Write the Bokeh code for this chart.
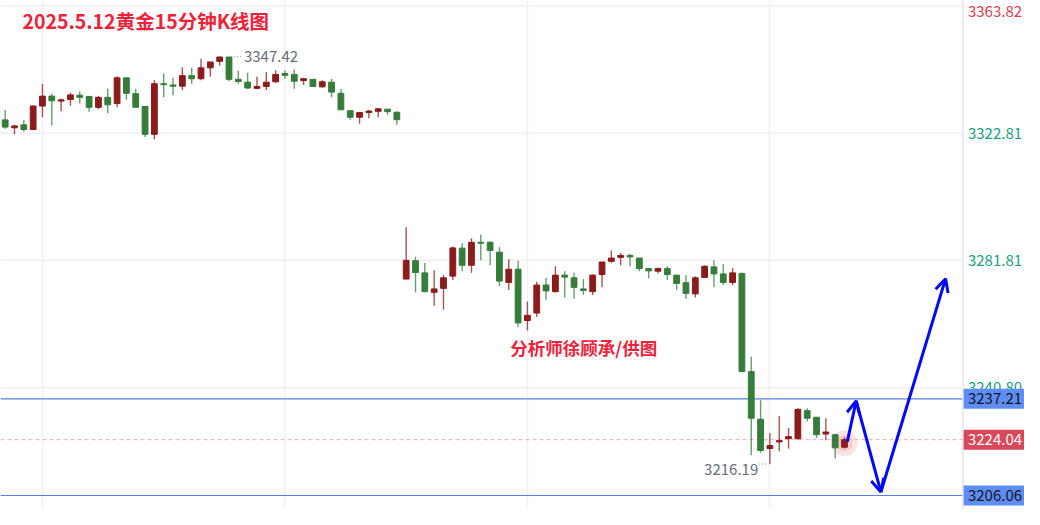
import numpy as np
from bokeh.plotting import figure
from bokeh.models import (Range1d, FixedTicker, Span, Arrow, OpenHead,
                          ColumnDataSource, Grid)
from bokeh.core.properties import value
from bokeh.embed import file_html
from bokeh.resources import INLINE

# ---------------- data (15-minute gold candles, 2025-05-12) ----------------
opens = [3327.04, 3324.50, 3325.45, 3323.95, 3331.50, 3334.70, 3333.10, 3333.60, 3335.00, 3334.60,
         3331.10, 3334.30, 3332.30, 3340.60, 3335.50, 3331.40, 3322.40, 3338.70, 3338.30, 3337.90,
         3341.30, 3340.30, 3343.80, 3345.90, 3347.30, 3340.10, 3339.20, 3337.20, 3337.80, 3339.30,
         3342.00, 3341.70, 3339.70, 3340.10, 3337.70, 3339.20, 3335.60, 3330.00, 3327.90, 3329.40,
         3329.80, 3330.50, 3329.50,
         3275.77, 3281.68, 3277.77, 3271.51, 3272.78, 3276.72, 3285.72, 3280.22, 3287.62, 3287.62,
         3284.45, 3274.69, 3278.95, 3262.42, 3264.83, 3273.86, 3271.73, 3277.04, 3276.18, 3272.59,
         3271.73, 3277.22, 3281.49, 3282.76, 3283.40, 3282.54, 3279.14, 3278.31, 3279.14, 3277.04,
         3274.59, 3271.00, 3276.28, 3279.68, 3277.43, 3274.69, 3277.54, 3245.98, 3230.63, 3221.19,
         3223.32, 3224.37, 3224.37, 3233.37, 3231.27, 3225.86, 3225.64, 3221.61]
highs = [3330.22, 3325.50, 3327.00, 3331.80, 3338.70, 3335.50, 3333.90, 3335.90, 3336.20, 3334.70,
         3334.70, 3337.10, 3341.10, 3340.60, 3337.10, 3331.40, 3339.80, 3342.00, 3340.60, 3344.00,
         3343.80, 3346.70, 3345.70, 3347.42, 3347.30, 3342.90, 3342.20, 3340.90, 3342.50, 3343.00,
         3343.00, 3343.30, 3340.60, 3340.10, 3339.80, 3340.20, 3337.00, 3330.00, 3329.70, 3330.20,
         3330.90, 3330.50, 3329.80,
         3292.49, 3282.95, 3280.95, 3278.63, 3277.04, 3286.26, 3287.31, 3288.90, 3290.07, 3287.93,
         3286.03, 3282.13, 3281.68, 3268.55, 3274.91, 3276.18, 3279.90, 3278.31, 3277.77, 3275.77,
         3277.22, 3281.27, 3285.00, 3284.13, 3283.90, 3282.54, 3279.36, 3279.50, 3279.90, 3277.04,
         3277.04, 3276.72, 3280.22, 3281.81, 3280.54, 3279.36, 3277.87, 3250.75, 3236.77, 3226.18,
         3231.68, 3227.77, 3234.13, 3234.13, 3231.27, 3230.95, 3225.96, 3224.78]
lows = [3324.18, 3322.40, 3323.20, 3323.95, 3327.90, 3325.20, 3329.80, 3331.60, 3332.30, 3329.70,
        3330.50, 3329.20, 3331.10, 3333.50, 3331.10, 3321.50, 3320.80, 3334.30, 3335.00, 3336.60,
        3338.70, 3339.80, 3340.90, 3344.50, 3339.50, 3338.70, 3337.10, 3336.90, 3336.70, 3339.00,
        3340.30, 3337.10, 3338.30, 3337.80, 3337.40, 3334.30, 3330.30, 3327.10, 3325.80, 3327.60,
        3327.90, 3328.70, 3325.50,
        3275.77, 3271.51, 3271.51, 3267.19, 3265.91, 3275.45, 3278.31, 3277.77, 3281.81, 3280.22,
        3273.54, 3272.27, 3260.29, 3259.24, 3263.56, 3269.09, 3271.41, 3269.82, 3269.41, 3270.68,
        3270.68, 3273.10, 3281.04, 3280.22, 3279.90, 3278.31, 3275.96, 3277.60, 3275.45, 3272.27,
        3269.41, 3269.82, 3276.18, 3273.10, 3273.86, 3273.86, 3245.76, 3219.06, 3219.82, 3216.19,
        3220.33, 3221.19, 3224.05, 3229.87, 3224.59, 3223.83, 3218.01, 3221.19]
closes = [3324.72, 3325.10, 3323.95, 3331.50, 3334.70, 3333.20, 3333.50, 3335.10, 3334.30, 3331.10,
          3334.30, 3331.90, 3340.60, 3335.60, 3331.10, 3322.40, 3338.70, 3338.40, 3337.90, 3341.30,
          3340.30, 3343.80, 3345.70, 3347.30, 3340.10, 3339.40, 3337.30, 3337.80, 3339.20, 3341.70,
          3341.40, 3339.50, 3340.30, 3337.80, 3339.30, 3336.00, 3330.30, 3327.90, 3329.40, 3329.90,
          3330.60, 3329.70, 3327.10,
          3281.81, 3277.87, 3271.73, 3272.59, 3276.18, 3285.81, 3280.22, 3287.62, 3287.31, 3284.99,
          3275.13, 3278.95, 3261.65, 3264.10, 3273.86, 3271.95, 3277.04, 3276.40, 3273.10, 3272.14,
          3277.04, 3281.27, 3282.54, 3283.40, 3282.90, 3279.14, 3278.41, 3279.14, 3277.22, 3274.37,
          3271.19, 3276.18, 3279.90, 3277.43, 3274.69, 3277.77, 3245.98, 3230.95, 3220.56, 3222.15,
          3223.73, 3225.01, 3233.81, 3230.95, 3225.64, 3226.50, 3221.41, 3224.04]

axis_ticks = [3240.80, 3281.81, 3322.81]
top_tick = 3363.82
grid_levels = [3240.80, 3281.81, 3322.81, 3363.82]
time_grid = [4, 30, 56, 82]
resistance = 3237.21
support = 3206.06
last_price = 3224.04
session_high = 3347.42
session_low = 3216.19
forecast_x = [90.3, 91.25, 93.9, 100.84]
forecast_y = [3223.4, 3236.5, 3207.2, 3275.9]

title_text = "2025.5.12黄金15分钟K线图"
credit_text = "分析师徐顾承/供图"

# ---------------- figure ----------------
RED = "#8c1c1c"
GREEN = "#367c3b"
TEAL = "#17a080"
CJK = "Noto Sans CJK SC"

X0, X1 = -0.50, 109.30          # full canvas in candle-index units
XB = 102.70                     # price-scale boundary (right edge of chart area)
Y0, Y1 = 3201.55, 3365.50
px_x = (X1 - X0) / 1024.0       # index units per pixel
px_y = (Y1 - Y0) / 509.0        # price units per pixel

idx = np.arange(len(opens))
o = np.array(opens); c = np.array(closes)
colors = [RED if cc >= oo else GREEN for oo, cc in zip(o, c)]
src = ColumnDataSource(dict(x=idx, o=o, c=c, h=highs, l=lows,
                            top=np.maximum(o, c), bottom=np.minimum(o, c), color=colors))

p = figure(width=1024, height=509, x_range=Range1d(X0, X1), y_range=Range1d(Y0, Y1),
           output_backend="svg", toolbar_location=None,
           x_axis_location=None, y_axis_location=None,
           min_border_left=0, min_border_right=0, min_border_top=0, min_border_bottom=0)
p.outline_line_color = None
p.background_fill_color = "white"
p.border_fill_color = "white"
p.grid.grid_line_color = None

# grid
p.add_layout(Grid(dimension=0, ticker=FixedTicker(ticks=time_grid),
                  grid_line_color="#f0f0f5", grid_line_width=1.5))
p.segment(x0=[X0] * len(grid_levels), y0=grid_levels, x1=[XB] * len(grid_levels),
          y1=grid_levels, line_color="#f0f0f5", line_width=1.5)

# price scale separator
p.add_layout(Span(location=XB, dimension="height", line_color="#e4e4ee", line_width=1.5))

# horizontal level lines
p.segment(x0=[X0, X0], y0=[resistance, support], x1=[XB, XB], y1=[resistance, support],
          line_color="#5b7fe2", line_width=1.2)
p.segment(x0=[X0], y0=[last_price], x1=[XB], y1=[last_price], line_color="#f3a7b0",
          line_width=1, line_dash="4 3")

# glow around last candle
last_i = len(opens) - 1
mid_last = (opens[-1] + closes[-1]) / 2
p.scatter([last_i], [mid_last], size=26, fill_color="#f2b3b3", fill_alpha=0.35, line_color=None)
p.scatter([last_i], [mid_last], size=16, fill_color="#ee9c9c", fill_alpha=0.35, line_color=None)

# candles
p.segment(x0="x", y0="l", x1="x", y1="h", source=src, line_color="color",
          line_width=1.4, line_alpha=0.75)
p.vbar(x="x", width=0.62, top="top", bottom="bottom", source=src,
       fill_color="color", line_color="color", line_width=1)

# high / low markers
hi_i = int(np.argmax(highs)); lo_i = int(np.argmin(lows))
p.segment(x0=[hi_i + 1.25], y0=[session_high], x1=[hi_i + 2.5], y1=[session_high],
          line_color="#8a8fa0", line_dash="1 2", line_width=1)
p.text(x=[hi_i + 2.6], y=[session_high], text=[f"{session_high:.2f}"],
       text_font=value(CJK), text_font_size="15px", text_color="#686c7c",
       text_baseline="middle", text_align="left")
p.segment(x0=[lo_i - 1.15], y0=[session_low], x1=[lo_i - 0.15], y1=[session_low],
          line_color="#8a8fa0", line_dash="1 2", line_width=1)
p.text(x=[lo_i - 1.25], y=[session_low], text=[f"{session_low:.2f}"],
       text_font=value(CJK), text_font_size="15px", text_color="#686c7c",
       text_baseline="top", text_align="right")

# titles
p.text(x=[1.85], y=[3359.1], text=[title_text], text_font=value(CJK),
       text_font_size="19.5px", text_font_style="bold", text_color="#f0223a",
       text_baseline="middle", text_align="left")
p.text(x=[54.17], y=[3253.6], text=[credit_text], text_font=value(CJK),
       text_font_size="17.5px", text_font_style="bold", text_color="#f0223a",
       text_baseline="middle", text_align="left")

# forecast arrows
for k in range(len(forecast_x) - 1):
    p.add_layout(Arrow(end=OpenHead(size=13, line_color="#0008ff", line_width=3),
                       x_start=forecast_x[k], y_start=forecast_y[k],
                       x_end=forecast_x[k + 1], y_end=forecast_y[k + 1],
                       line_color="#0008ff", line_width=3))

# price scale labels
xl = XB + 5 * px_x
p.text(x=[xl] * len(axis_ticks), y=axis_ticks, text=[f"{v:.2f}" for v in axis_ticks],
       text_font=value(CJK), text_font_size="15px", text_color=TEAL,
       text_baseline="middle", text_align="left")
p.text(x=[xl], y=[top_tick], text=[f"{top_tick:.2f}"], text_font=value(CJK),
       text_font_size="15px", text_color="#e0404e", text_baseline="top", text_align="left")

# boxed price tags
tag_levels = [resistance, last_price, support]
tag_fill = ["#5e8df6", "#d9485a", "#5e8df6"]
tag_text = ["#14141f", "#ffffff", "#14141f"]
half = 10 * px_y
p.quad(left=[XB] * 3, right=[X1] * 3, top=[v + half for v in tag_levels],
       bottom=[v - half for v in tag_levels], fill_color=tag_fill, line_color=None)
p.text(x=[xl] * 3, y=tag_levels, text=[f"{v:.2f}" for v in tag_levels],
       text_font=value(CJK), text_font_size="15px", text_color=tag_text,
       text_baseline="middle", text_align="left")

open("out.html", "w").write(file_html(p, INLINE))
